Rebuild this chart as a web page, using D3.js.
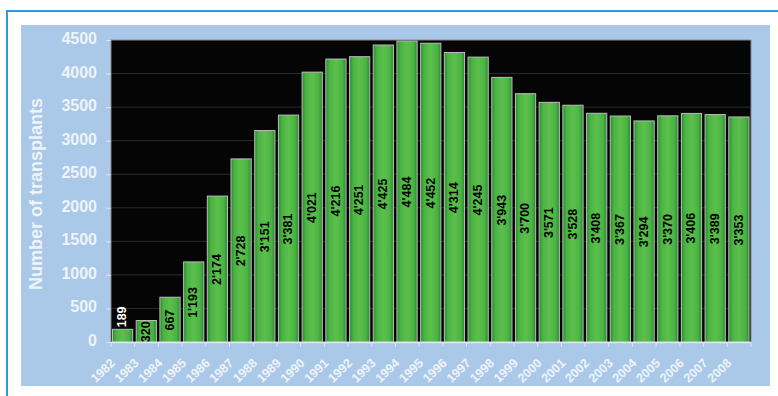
<!DOCTYPE html>
<html>
<head>
<meta charset="utf-8">
<script src="https://cdn.jsdelivr.net/npm/d3@7"></script>
<style>
  html, body { margin: 0; padding: 0; background: #fff; }
  svg { display: block; font-family: "Liberation Sans", Arial, sans-serif; }
</style>
</head>
<body>
<div id="chart"></div>
<script>
// data
const years = ['1982','1983','1984','1985','1986','1987','1988','1989','1990','1991','1992','1993','1994',
  '1995','1996','1997','1998','1999','2000','2001','2002','2003','2004','2005','2006','2007','2008'];
const transplants = [189, 320, 667, 1193, 2174, 2728, 3151, 3381, 4021, 4216, 4251, 4425, 4484,
  4452, 4314, 4245, 3943, 3700, 3571, 3528, 3408, 3367, 3294, 3370, 3406, 3389, 3353];
const yTicks = [0, 500, 1000, 1500, 2000, 2500, 3000, 3500, 4000, 4500];

const width = 778, height = 396;
const plot = { left: 111, right: 751, top: 40, bottom: 342 };

const svg = d3.select('#chart').append('svg')
  .attr('width', width)
  .attr('height', height);

// green gradient for the bars
const grad = svg.append('defs').append('linearGradient')
  .attr('id', 'barGrad')
  .attr('x1', '0%').attr('x2', '100%').attr('y1', '0%').attr('y2', '0%');
grad.append('stop').attr('offset', '0%').attr('stop-color', '#2b8a2e');
grad.append('stop').attr('offset', '18%').attr('stop-color', '#49b443');
grad.append('stop').attr('offset', '50%').attr('stop-color', '#5dbf4c');
grad.append('stop').attr('offset', '82%').attr('stop-color', '#49b443');
grad.append('stop').attr('offset', '100%').attr('stop-color', '#2b8a2e');

// outer frame and light blue panel
svg.append('rect')
  .attr('x', 7).attr('y', 11)
  .attr('width', 820).attr('height', 420)
  .style('fill', '#fff')
  .style('stroke', '#2f9bd6')
  .style('stroke-width', 2);

svg.append('rect')
  .attr('x', 21).attr('y', 25)
  .attr('width', 749).attr('height', 361)
  .style('fill', '#aac8e8');

// scales
const x = d3.scaleBand()
  .domain(years)
  .range([plot.left, plot.right])
  .padding(0);

const y = d3.scaleLinear()
  .domain([0, 4500])
  .range([plot.bottom, plot.top]);

// black plot area
svg.append('rect')
  .attr('x', plot.left).attr('y', plot.top)
  .attr('width', plot.right - plot.left)
  .attr('height', plot.bottom - plot.top)
  .style('fill', '#050505')
  .style('stroke', '#8a8a8a')
  .style('stroke-width', 1);

// faint gridlines
svg.append('g')
  .selectAll('line')
  .data(yTicks.filter(d => d > 0 && d < 4500))
  .enter()
  .append('line')
  .attr('x1', plot.left + 1)
  .attr('x2', plot.right - 1)
  .attr('y1', d => y(d))
  .attr('y2', d => y(d))
  .style('stroke', '#2c2c2c')
  .style('stroke-width', 1);

// bars
svg.append('g')
  .selectAll('rect')
  .data(years)
  .enter()
  .append('rect')
  .attr('x', d => x(d) + 1.5)
  .attr('y', (d, i) => y(transplants[i]))
  .attr('width', x.bandwidth() - 3.5)
  .attr('height', (d, i) => plot.bottom - y(transplants[i]))
  .style('fill', 'url(#barGrad)')
  .style('stroke', '#bdbdbd')
  .style('stroke-width', 1);

// value labels, rotated, centered in each bar
const fmt = v => {
  const s = String(v);
  return s.length > 3 ? s.slice(0, s.length - 3) + "'" + s.slice(-3) : s;
};

svg.append('g')
  .selectAll('text')
  .data(years)
  .enter()
  .append('text')
  .each(function (d, i) {
    const v = transplants[i];
    const cx = x(d) + x.bandwidth() / 2 - 0.5;
    const top = y(v);
    const t = d3.select(this)
      .attr('dominant-baseline', 'central')
      .style('font-size', '12.5px')
      .style('font-weight', 'bold')
      .text(fmt(v));
    const len = this.getComputedTextLength();
    if (plot.bottom - top < len - 4) {
      // very short bar: label sits above it in white
      t.attr('transform', `translate(${cx},${top - 2}) rotate(-90)`)
        .style('text-anchor', 'start')
        .style('fill', '#ffffff');
    } else {
      t.attr('transform', `translate(${cx},${(top + plot.bottom) / 2 + 0.5}) rotate(-90)`)
        .style('text-anchor', 'middle')
        .style('fill', '#000000');
    }
  });

// y axis
const yAxis = svg.append('g')
  .attr('transform', `translate(${plot.left},0)`)
  .call(d3.axisLeft(y).tickValues(yTicks).tickSize(5).tickPadding(9).tickFormat(d3.format('d')));
yAxis.select('.domain').remove();
yAxis.selectAll('line').style('stroke', '#d8e4f0');
yAxis.selectAll('text')
  .attr('dy', null)
  .attr('y', -2)
  .attr('dominant-baseline', 'central')
  .style('fill', '#eef4fa')
  .style('font-size', '16px')
  .style('font-weight', 'bold')
  .style('font-family', '"Liberation Sans", Arial, sans-serif');

// x axis: baseline, ticks between bars, rotated year labels
svg.append('line')
  .attr('x1', plot.left).attr('x2', plot.right)
  .attr('y1', plot.bottom + 0.5).attr('y2', plot.bottom + 0.5)
  .style('stroke', '#dde8f2')
  .style('stroke-width', 1.5);

svg.append('g')
  .selectAll('line')
  .data(years.concat(['end']))
  .enter()
  .append('line')
  .attr('x1', d => d === 'end' ? plot.right : x(d))
  .attr('x2', d => d === 'end' ? plot.right : x(d))
  .attr('y1', plot.bottom)
  .attr('y2', plot.bottom + 5)
  .style('stroke', '#dde8f2')
  .style('stroke-width', 1);

const xAxis = svg.append('g')
  .attr('transform', `translate(0,${plot.bottom})`)
  .call(d3.axisBottom(x).tickSize(0).tickPadding(0));
xAxis.select('.domain').remove();
xAxis.selectAll('text')
  .attr('y', 0)
  .attr('dy', null)
  .attr('transform', 'translate(-7,22) rotate(-44)')
  .style('text-anchor', 'end')
  .style('fill', '#eef4fa')
  .style('font-size', '12.5px')
  .style('font-weight', 'bold')
  .style('font-family', '"Liberation Sans", Arial, sans-serif');

// y axis title
svg.append('text')
  .attr('transform', 'translate(36,194) rotate(-90)')
  .attr('dominant-baseline', 'central')
  .style('text-anchor', 'middle')
  .style('fill', '#eef4fa')
  .style('font-size', '18px')
  .style('font-weight', 'bold')
  .text('Number of transplants');
</script>
</body>
</html>
